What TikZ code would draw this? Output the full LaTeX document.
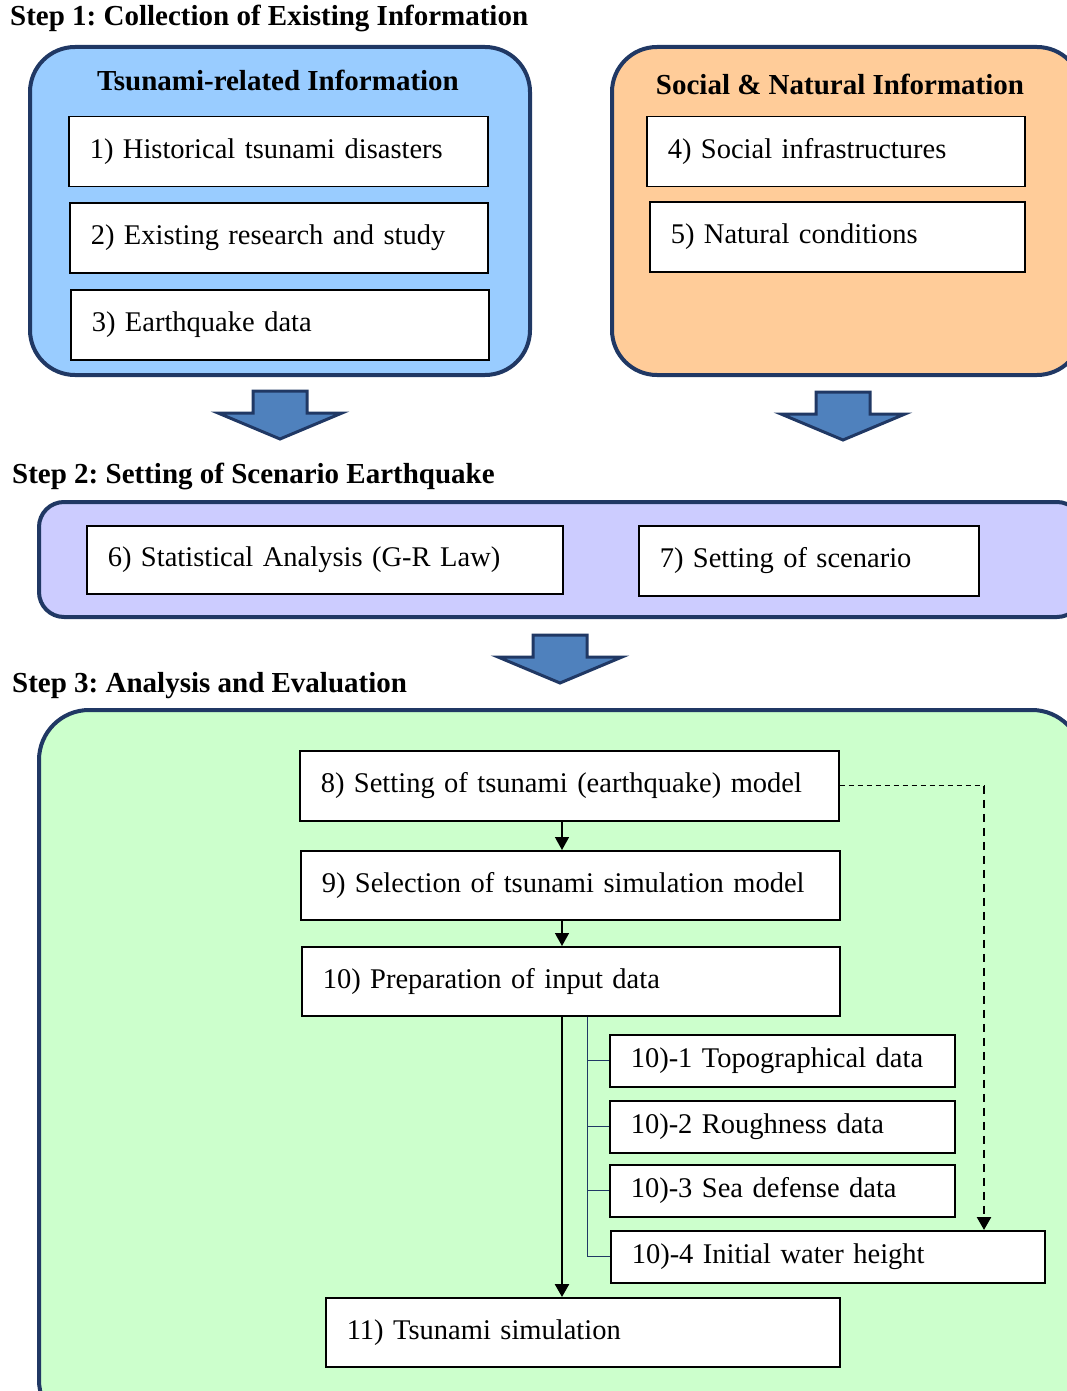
\documentclass[tikz,border=0pt]{standalone}
\usepackage{fontspec}
\setmainfont{Liberation Serif}
\usetikzlibrary{positioning, arrows.meta, calc}

\definecolor{navy}{RGB}{32,56,100}
\definecolor{tsublue}{RGB}{153,204,255}
\definecolor{socorange}{RGB}{255,204,153}
\definecolor{scnpurple}{RGB}{204,204,255}
\definecolor{evalgreen}{RGB}{204,255,204}
\definecolor{arrowblue}{RGB}{79,129,189}

\begin{document}
\frenchspacing
\begin{tikzpicture}[
  x=1pt, y=-1pt,
  font=\fontsize{28.5}{32}\selectfont,
  panel/.style={draw=navy, line width=4pt, anchor=north west, inner sep=0pt},
  box/.style={draw, fill=white, line width=1.5pt, anchor=north west,
    minimum height=70pt, inner xsep=21pt, inner ysep=0pt, align=left},
  steptitle/.style={font=\fontsize{29}{32}\selectfont\bfseries, anchor=west, inner sep=0pt},
  paneltitle/.style={font=\fontsize{29}{32}\selectfont\bfseries, inner sep=0pt},
  arrow/.style={-{Triangle[length=13pt,width=14pt]}, line width=1.5pt},
  treeline/.style={draw=navy, line width=1pt},
  dashline/.style={dash pattern=on 5pt off 4pt, line width=1.3pt},
  dasharrow/.style={-{Triangle[length=13pt,width=14pt]}, dash pattern=on 8pt off 6pt, line width=2.5pt},
  bigarrow/.pic={\draw[fill=arrowblue, draw=navy, line width=3pt]
    (-27,0) -- (27,0) -- (27,22) -- (62,22) -- (0,48) -- (-62,22) -- (-27,22) -- cycle;},
]
  \useasboundingbox (0,0) rectangle (1067,1391);

  % Step 1
  \node[steptitle] (step1) at (10,18) {Step 1: Collection of Existing Information};
  \node[panel, fill=tsublue, minimum width=500pt, minimum height=328pt, rounded corners=45pt] (tsuPanel) at (28,45) {};
  \node[paneltitle] (tsuTitle) at (278,80) {Tsunami-related Information};
  \node[box, text width=377pt] (info1) at (68,116) {1) Historical tsunami disasters};
  \node[box, text width=376pt] (info2) at (69,202) {2) Existing research and study};
  \node[box, text width=376pt] (info3) at (70,289) {3) Earthquake data};

  \node[panel, fill=socorange, minimum width=470pt, minimum height=328pt, rounded corners=45pt] (socPanel) at (610,45) {};
  \node[paneltitle] (socTitle) at (840,84) {Social \& Natural Information};
  \node[box, text width=336pt] (info4) at (646,116) {4) Social infrastructures};
  \node[box, text width=333pt] (info5) at (649,201) {5) Natural conditions};

  \pic at (280,391) {bigarrow};
  \pic at (843,392) {bigarrow};

  % Step 2
  \node[steptitle] (step2) at (12,476) {Step 2: Setting of Scenario Earthquake};
  \node[panel, fill=scnpurple, minimum width=1043pt, minimum height=115pt, rounded corners=25pt] (scnPanel) at (37,500) {};
  \node[box, text width=434pt, minimum height=68pt] (scn6) at (86,525) {6) Statistical Analysis (G-R Law)};
  \node[box, text width=298pt] (scn7) at (638,525) {7) Setting of scenario};

  \pic at (560,635) {bigarrow};

  % Step 3
  \node[steptitle] (step3) at (12,686) {Step 3: Analysis and Evaluation};
  \node[panel, fill=evalgreen, minimum width=1043pt, minimum height=720pt, rounded corners=50pt] (evalPanel) at (37,708) {};
  \node[box, text width=497pt] (m8) at (299,750) {8) Setting of tsunami (earthquake) model};
  \node[box, text width=497pt, minimum height=69pt] (m9) at (300,850) {9) Selection of tsunami simulation model};
  \node[box, text width=496pt, minimum height=69pt] (m10) at (301,946) {10) Preparation of input data};
  \node[box, text width=303pt, minimum height=52pt] (s1) at (609,1034) {10)-1 Topographical data};
  \node[box, text width=303pt, minimum height=52pt] (s2) at (609,1100) {10)-2 Roughness data};
  \node[box, text width=303pt, minimum height=52pt] (s3) at (609,1164) {10)-3 Sea defense data};
  \node[box, text width=392pt, minimum height=52pt] (s4) at (610,1230) {10)-4 Initial water height};
  \node[box, text width=472pt, minimum height=69pt] (m11) at (325,1297) {11) Tsunami simulation};

  \coordinate (flowx) at (562,0);
  \coordinate (treex) at (587,0);
  \coordinate (dashx) at (984,0);

  \draw[arrow] (m8.south -| flowx) -- (m9.north -| flowx);
  \draw[arrow] (m9.south -| flowx) -- (m10.north -| flowx);
  \draw[arrow, line width=2.5pt] (m10.south -| flowx) -- (m11.north -| flowx);

  \draw[treeline] (m10.south -| treex) |- (s4.west);
  \draw[treeline] (s1.west -| treex) -- (s1.west);
  \draw[treeline] (s2.west -| treex) -- (s2.west);
  \draw[treeline] (s3.west -| treex) -- (s3.west);

  \coordinate (dashcorner) at (m8.east -| dashx);
  \draw[dashline] (m8.east) -- (dashcorner);
  \draw[dasharrow] (dashcorner) -- (s4.north -| dashx);
\end{tikzpicture}
\end{document}
